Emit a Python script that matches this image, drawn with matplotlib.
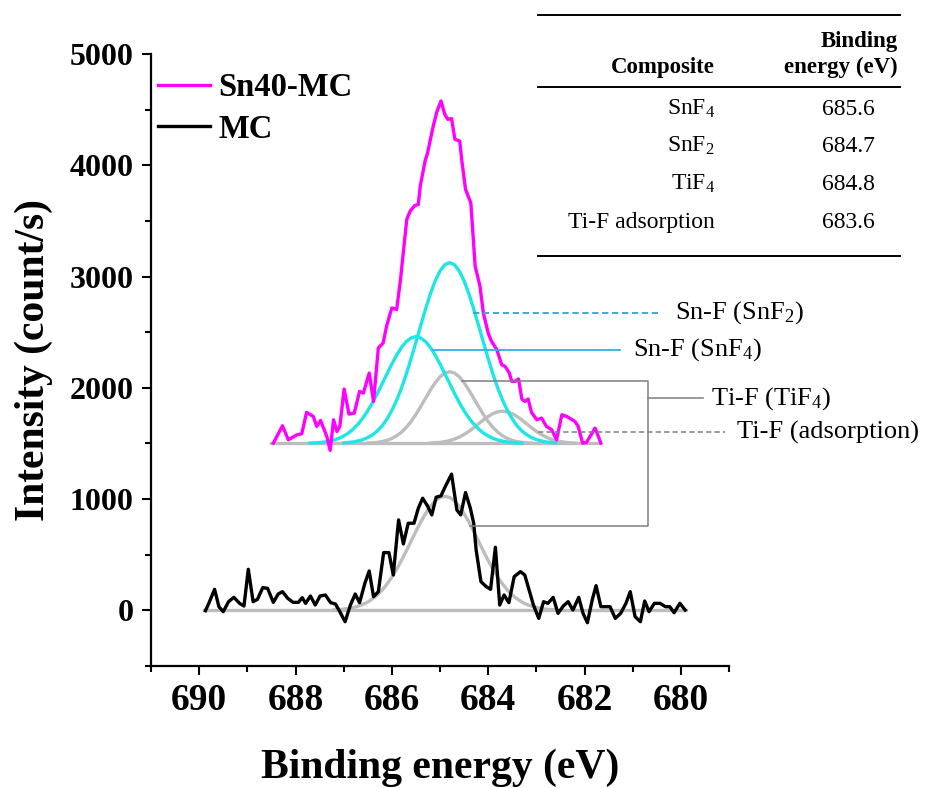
import matplotlib
matplotlib.use('Agg')
import matplotlib.pyplot as plt
from matplotlib.lines import Line2D
from matplotlib.ticker import MultipleLocator

plt.rcParams['font.family'] = ['Liberation Serif', 'DejaVu Serif']
plt.rcParams['mathtext.fontset'] = 'custom'
plt.rcParams['mathtext.rm'] = 'Liberation Serif'
plt.rcParams['mathtext.it'] = 'Liberation Serif:italic'
plt.rcParams['mathtext.bf'] = 'Liberation Serif:bold'

# --- Sn40-MC raw spectrum (offset by +1500) ---
sn_x = [688.46, 688.27, 688.15, 687.97, 687.87, 687.77, 687.63, 687.56, 687.48, 687.35,
        687.28, 687.21, 687.14, 687.08, 686.99, 686.89, 686.78, 686.67, 686.59, 686.47,
        686.38, 686.28, 686.18, 686.11, 686.00, 685.90, 685.82, 685.69, 685.62, 685.52,
        685.45, 685.41, 685.31, 685.26, 685.14, 685.07, 684.98, 684.90, 684.84, 684.76,
        684.69, 684.59, 684.55, 684.47, 684.36, 684.27, 684.17, 684.10, 684.00, 683.93,
        683.82, 683.72, 683.65, 683.56, 683.51, 683.44, 683.37, 683.30, 683.24, 683.17,
        683.10, 682.99, 682.89, 682.79, 682.68, 682.58, 682.47, 682.37, 682.20, 682.13,
        682.04, 681.96, 681.78, 681.66]
sn_y = [1503, 1659, 1533, 1578, 1587, 1779, 1743, 1653, 1707, 1563,
        1437, 1713, 1608, 1653, 1989, 1764, 1773, 1968, 1953, 2133,
        1878, 2358, 2403, 2553, 2718, 2703, 2973, 3513, 3588, 3639,
        3648, 3813, 4038, 4107, 4353, 4473, 4578, 4458, 4413, 4419,
        4233, 4218, 4053, 3783, 3663, 3093, 2913, 2673, 2493, 2418,
        2343, 2208, 2193, 2133, 2058, 2058, 2079, 1899, 1878, 1899,
        1779, 1713, 1728, 1653, 1623, 1533, 1758, 1743, 1698, 1653,
        1503, 1509, 1638, 1503]

sn_base_x = [688.5, 681.7]
sn_base_y = [1500, 1500]

# fitted components of Sn40-MC
snf2_x = [687.0, 686.9, 686.8, 686.7, 686.6, 686.5, 686.4, 686.3, 686.2, 686.1,
          686.0, 685.9, 685.8, 685.7, 685.6, 685.5, 685.4, 685.3, 685.2, 685.1,
          685.0, 684.9, 684.8, 684.7, 684.6, 684.5, 684.4, 684.3, 684.2, 684.1,
          684.0, 683.9, 683.8, 683.7, 683.6, 683.5, 683.4, 683.3, 683.2, 683.1,
          683.0, 682.9, 682.8, 682.7, 682.6]
snf2_y = [1505, 1509, 1514, 1523, 1535, 1553, 1578, 1613, 1659, 1720,
          1796, 1888, 1997, 2123, 2262, 2410, 2561, 2709, 2844, 2961,
          3050, 3106, 3125, 3106, 3050, 2961, 2844, 2709, 2561, 2410,
          2262, 2123, 1997, 1888, 1796, 1720, 1659, 1613, 1578, 1553,
          1535, 1523, 1514, 1509, 1505]

snf4_x = [687.7, 687.6, 687.5, 687.4, 687.3, 687.2, 687.1, 687.0, 686.9, 686.8,
          686.7, 686.6, 686.5, 686.4, 686.3, 686.2, 686.1, 686.0, 685.9, 685.8,
          685.7, 685.6, 685.5, 685.4, 685.3, 685.2, 685.1, 685.0, 684.9, 684.8,
          684.7, 684.6, 684.5, 684.4, 684.3, 684.2, 684.1, 684.0, 683.9, 683.8,
          683.7, 683.6, 683.5, 683.4, 683.3]
snf4_y = [1503, 1505, 1508, 1513, 1521, 1531, 1546, 1567, 1594, 1630,
          1675, 1729, 1794, 1868, 1950, 2038, 2127, 2214, 2294, 2363,
          2416, 2448, 2460, 2448, 2416, 2363, 2294, 2214, 2127, 2038,
          1950, 1868, 1794, 1729, 1675, 1630, 1594, 1567, 1546, 1531,
          1521, 1513, 1508, 1505, 1503]

tif4_x = [686.5, 686.4, 686.3, 686.2, 686.1, 686.0, 685.9, 685.8, 685.7, 685.6,
          685.5, 685.4, 685.3, 685.2, 685.1, 685.0, 684.9, 684.8, 684.7, 684.6,
          684.5, 684.4, 684.3, 684.2, 684.1, 684.0, 683.9, 683.8, 683.7, 683.6,
          683.5, 683.4, 683.3, 683.2, 683.1]
tif4_y = [1503, 1506, 1510, 1517, 1528, 1545, 1569, 1601, 1644, 1697,
          1761, 1832, 1906, 1980, 2046, 2099, 2133, 2145, 2133, 2099,
          2046, 1980, 1906, 1832, 1761, 1697, 1644, 1601, 1569, 1545,
          1528, 1517, 1510, 1506, 1503]

ads_x = [685.2, 685.1, 685.0, 684.9, 684.8, 684.7, 684.6, 684.5, 684.4, 684.3,
         684.2, 684.1, 684.0, 683.9, 683.8, 683.7, 683.6, 683.5, 683.4, 683.3,
         683.2, 683.1, 683.0, 682.9, 682.8, 682.7, 682.6, 682.5, 682.4, 682.3,
         682.2]
ads_y = [1503, 1506, 1510, 1516, 1526, 1539, 1557, 1581, 1609, 1641,
         1676, 1711, 1742, 1768, 1784, 1790, 1784, 1768, 1742, 1711,
         1676, 1641, 1609, 1581, 1557, 1539, 1526, 1516, 1510, 1506,
         1503]

# --- MC raw spectrum ---
mc_x = [689.87, 689.80, 689.68, 689.59, 689.50, 689.39, 689.28, 689.16, 689.07, 688.98,
        688.88, 688.79, 688.68, 688.58, 688.46, 688.36, 688.27, 688.16, 688.05, 687.94,
        687.86, 687.79, 687.69, 687.59, 687.49, 687.38, 687.27, 687.17, 687.08, 686.97,
        686.86, 686.76, 686.67, 686.56, 686.47, 686.38, 686.28, 686.17, 686.06, 685.97,
        685.86, 685.76, 685.66, 685.54, 685.45, 685.36, 685.26, 685.17, 685.08, 684.98,
        684.89, 684.76, 684.65, 684.57, 684.47, 684.37, 684.30, 684.25, 684.15, 684.04,
        683.95, 683.85, 683.76, 683.67, 683.57, 683.46, 683.33, 683.24, 683.15, 683.06,
        682.95, 682.85, 682.76, 682.65, 682.55, 682.44, 682.34, 682.24, 682.12, 682.03,
        681.94, 681.84, 681.76, 681.66, 681.47, 681.36, 681.25, 681.14, 681.05, 680.95,
        680.84, 680.75, 680.66, 680.55, 680.43, 680.32, 680.23, 680.14, 680.02, 679.91]
mc_y = [-3, 63, 189, 33, -12, 78, 117, 63, 39, 369,
        78, 99, 204, 198, 72, 147, 168, 108, 72, 72,
        114, 63, 129, 48, 129, 138, 69, 57, -12, -102,
        48, 147, 69, 243, 354, 123, 168, 519, 519, 318,
        813, 597, 783, 783, 918, 1008, 939, 858, 1017, 1029,
        1113, 1224, 903, 858, 1059, 918, 783, 543, 258, 213,
        189, 567, 48, 138, 69, 303, 348, 318, 183, 48,
        -72, 78, 63, 117, -27, 39, 78, 3, 117, -27,
        -111, 93, 222, 33, 33, -72, -27, 63, 168, -57,
        -102, 84, -12, 63, 63, 33, 33, -21, 63, 3]

mc_base_x = [689.9, 679.9]
mc_base_y = [0, 0]

mcfit_x = [687.2, 687.1, 687.0, 686.9, 686.8, 686.7, 686.6, 686.5, 686.4, 686.3,
           686.2, 686.1, 686.0, 685.9, 685.8, 685.7, 685.6, 685.5, 685.4, 685.3,
           685.2, 685.1, 685.0, 684.9, 684.8, 684.7, 684.6, 684.5, 684.4, 684.3,
           684.2, 684.1, 684.0, 683.9, 683.8, 683.7, 683.6, 683.5, 683.4, 683.3,
           683.2, 683.1, 683.0, 682.9, 682.8, 682.7, 682.6]
mcfit_y = [5, 7, 11, 17, 26, 38, 54, 75, 104, 138,
           182, 236, 298, 369, 449, 533, 622, 710, 794, 870,
           935, 984, 1015, 1025, 1015, 984, 935, 870, 794, 710,
           622, 533, 449, 369, 298, 236, 182, 138, 104, 75,
           54, 38, 26, 17, 11, 7, 5]

# table
tbl_names = ['SnF$_4$', 'SnF$_2$', 'TiF$_4$', 'Ti-F adsorption']
tbl_energy = ['685.6', '684.7', '684.8', '683.6']

MAGENTA = '#ff00ff'
CYAN = '#1de6e6'
GRAY = '#bdbdbd'
W, H = 927, 788

fig = plt.figure(figsize=(9.27, 7.88), dpi=100)
ax = fig.add_axes([151 / W, 1 - 666 / H, 578 / W, 612 / H])

lw = 2.4
ax.plot(sn_base_x, sn_base_y, color=GRAY, lw=lw)
ax.plot(mc_base_x, mc_base_y, color=GRAY, lw=lw)
ax.plot(tif4_x, tif4_y, color=GRAY, lw=lw)
ax.plot(ads_x, ads_y, color=GRAY, lw=lw)
ax.plot(mcfit_x, mcfit_y, color=GRAY, lw=lw)
ax.plot(snf4_x, snf4_y, color=CYAN, lw=lw)
ax.plot(snf2_x, snf2_y, color=CYAN, lw=lw)
ax.plot(sn_x, sn_y, color=MAGENTA, lw=lw, label='Sn40-MC')
ax.plot(mc_x, mc_y, color='black', lw=lw, label='MC')

ax.set_xlim(691, 679)
ax.set_ylim(-500, 5000)
ax.xaxis.set_major_locator(MultipleLocator(2))
ax.xaxis.set_minor_locator(MultipleLocator(1))
ax.yaxis.set_major_locator(MultipleLocator(1000))
ax.yaxis.set_minor_locator(MultipleLocator(500))
ax.spines['top'].set_visible(False)
ax.spines['right'].set_visible(False)
for s in ['left', 'bottom']:
    ax.spines[s].set_linewidth(1.6)
ax.tick_params(which='major', direction='out', length=6.5, width=1.5)
ax.tick_params(which='minor', direction='out', length=4, width=1.5)
ax.tick_params(axis='y', labelsize=23, pad=6)
ax.tick_params(axis='x', labelsize=27, pad=6)
for lbl in ax.get_xticklabels() + ax.get_yticklabels():
    lbl.set_fontweight('bold')

ax.set_xlabel('Binding energy (eV)', fontsize=30, fontweight='bold', labelpad=22)
ax.set_ylabel('Intensity (count/s)', fontsize=30, fontweight='bold', labelpad=12)

ax.legend(loc='upper left', bbox_to_anchor=(-0.01, 0.992), frameon=False,
          prop={'weight': 'bold', 'size': 23.5}, handlelength=1.6,
          handletextpad=0.25, labelspacing=0.33, borderaxespad=0)

# peak annotations
ax.plot([684.32, 680.43], [2676, 2676], color='#2aa6d6', lw=1.3,
        ls=(0, (3.5, 2)), clip_on=False)
ax.text(680.12, 2676, 'Sn-F (SnF$_2$)', fontsize=19, va='center', ha='left')
ax.plot([685.15, 681.26], [2343, 2343], color='#2ab2e2', lw=1.3, clip_on=False)
ax.text(680.99, 2343, 'Sn-F (SnF$_4$)', fontsize=19, va='center', ha='left')
ax.plot([684.55, 680.68, 680.68, 684.38], [2058, 2058, 759, 759],
        color='#7f7f7f', lw=1.1, clip_on=False)
ax.plot([680.68, 679.54], [1905, 1905], color='#7f7f7f', lw=1.1, clip_on=False)
ax.text(679.37, 1905, 'Ti-F (TiF$_4$)', fontsize=19, va='center', ha='left')
ax.plot([682.97, 679.08], [1600, 1600], color='#7f7f7f', lw=1.1,
        ls=(0, (3.5, 2)), clip_on=False)
ax.text(678.83, 1600, 'Ti-F (adsorption)', fontsize=19, va='center', ha='left')

# table in the upper right
for py in [15, 87, 256]:
    fig.add_artist(Line2D([538 / W, 900 / W], [1 - py / H, 1 - py / H],
                          color='black', lw=1.4))
fig.text(715 / W, 1 - 73 / H, 'Composite', fontsize=16.5, fontweight='bold',
         ha='right', va='baseline')
fig.text(898 / W, 1 - 47 / H, 'Binding', fontsize=16.5, fontweight='bold',
         ha='right', va='baseline')
fig.text(898 / W, 1 - 73 / H, 'energy (eV)', fontsize=16.5, fontweight='bold',
         ha='right', va='baseline')
row_base = [115, 152, 190, 228]
for name, val, py in zip(tbl_names, tbl_energy, row_base):
    fig.text(715 / W, 1 - py / H, name, fontsize=17, ha='right', va='baseline')
    fig.text(875 / W, 1 - py / H, val, fontsize=17, ha='right', va='baseline')

fig.savefig('out.png', dpi=100)
